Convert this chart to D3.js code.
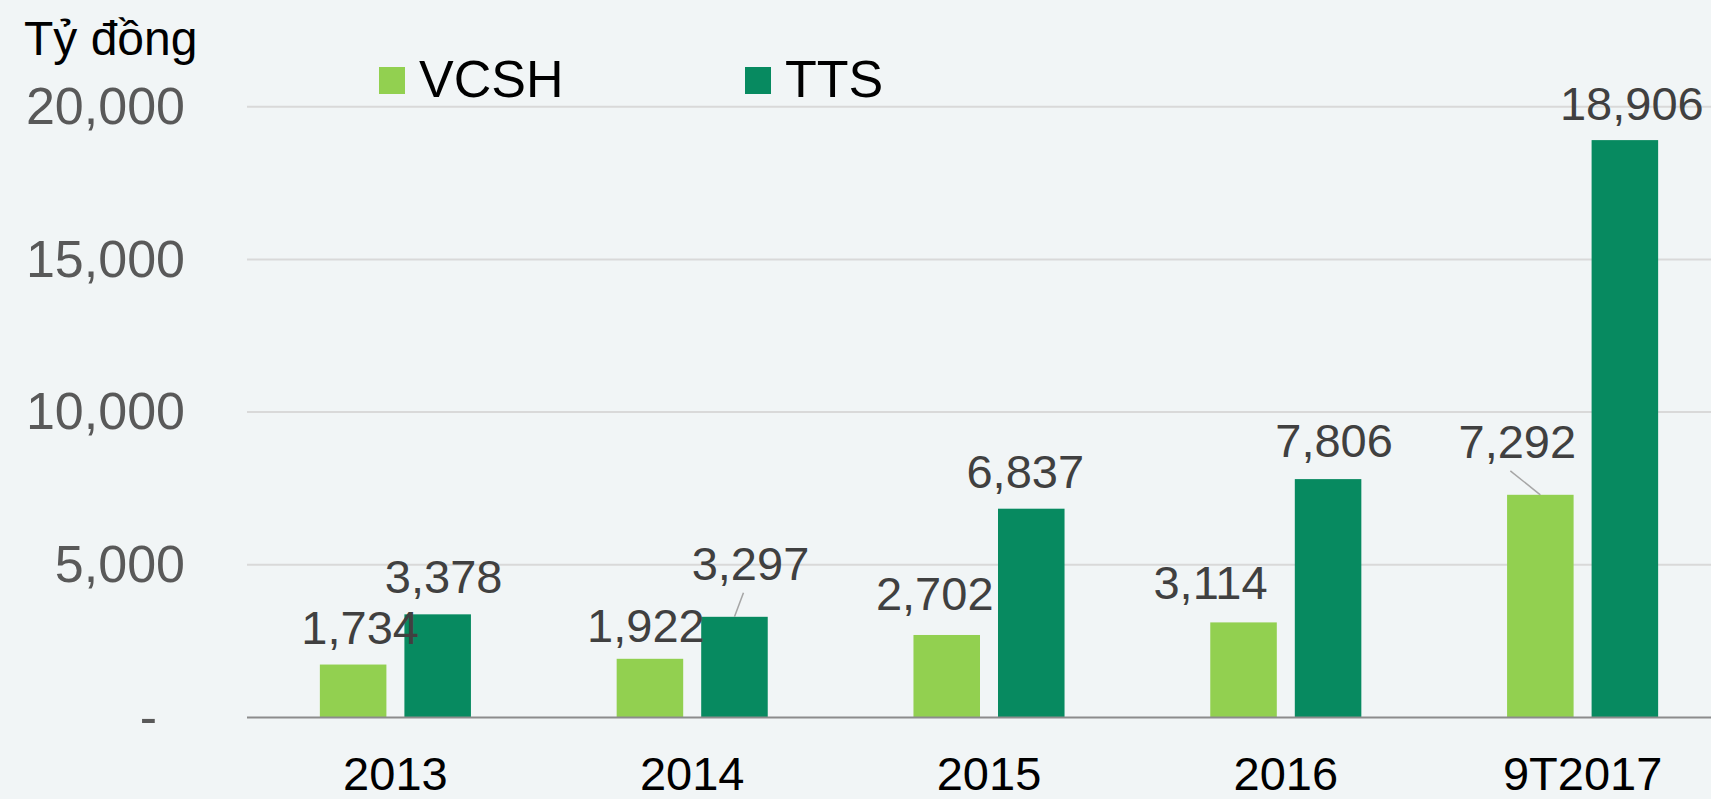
<!DOCTYPE html>
<html>
<head>
<meta charset="utf-8">
<script src="https://cdn.jsdelivr.net/npm/d3@7/dist/d3.min.js"></script>
<style>
  html, body { margin: 0; padding: 0; background: #f1f5f6; }
  svg { display: block; font-family: "Liberation Sans", Arial, sans-serif; }
</style>
</head>
<body>
<svg id="chart" width="1711" height="799"></svg>
<script>
// data
const categories = ['2013', '2014', '2015', '2016', '9T2017']
const series = ['VCSH', 'TTS']
const vcsh = [1734, 1922, 2702, 3114, 7292]
const tts = [3378, 3297, 6837, 7806, 18906]
const yTicks = [0, 5000, 10000, 15000, 20000]

// label nudges (px) from default spot above each bar, [vcsh, tts]
const nudge = [
  [[7, 0], [6, 0]],
  [[-4, 4], [16, -16]],
  [[-12, -4], [-6, 0]],
  [[-33, -2], [6, -1]],
  [[-23, -16], [7, 1]]
]
const leaders = [[1, 1], [4, 0]] // [category, series] that get a leader line

const colorScale = d3.scaleOrdinal()
  .domain(series)
  .range(['#92d050', '#078a60'])

const svg = d3.select('#chart')
const W = +svg.attr('width'), H = +svg.attr('height')

const x0 = d3.scaleBand()
  .domain(categories)
  .range([247, 1731])
  .paddingInner(0.491)
  .paddingOuter(0.2455)

const x1 = d3.scaleBand()
  .domain(series)
  .range([0, x0.bandwidth()])
  .paddingInner(0.213)

const y = d3.scaleLinear()
  .domain([0, 20000])
  .range([717.5, 106.7])

const fmt = d3.format(',')

// gridlines
svg.append('g')
  .selectAll('line')
  .data(yTicks.filter(d => d > 0))
  .enter().append('line')
  .attr('x1', 247).attr('x2', W)
  .attr('y1', d => y(d)).attr('y2', d => y(d))
  .attr('stroke', '#d9d9d9')
  .attr('stroke-width', 2)

// y axis labels
const yAxis = d3.axisLeft(y)
  .tickValues(yTicks)
  .tickSize(0)
  .tickPadding(0)
  .tickFormat(d => d === 0 ? '-' : fmt(d))

const ya = svg.append('g')
  .attr('transform', 'translate(185,0)')
  .call(yAxis)
ya.select('.domain').remove()
ya.selectAll('text')
  .attr('fill', '#595959')
  .style('font-size', '52px')
  .attr('dx', d => d === 0 ? -28 : 0)

// rows
const rows = categories.map((c, i) => ({cat: c, i: i, vals: [vcsh[i], tts[i]]}))

const groups = svg.selectAll('.grp').data(rows)
  .enter().append('g')
  .attr('class', 'grp')
  .attr('transform', d => `translate(${x0(d.cat)},0)`)

groups.selectAll('rect')
  .data(d => series.map((s, j) => ({s: s, v: d.vals[j]})))
  .enter().append('rect')
  .attr('x', d => x1(d.s))
  .attr('width', x1.bandwidth())
  .attr('y', d => y(d.v))
  .attr('height', d => y(0) - y(d.v))
  .attr('fill', d => colorScale(d.s))

// baseline
svg.append('line')
  .attr('x1', 247).attr('x2', W)
  .attr('y1', y(0)).attr('y2', y(0))
  .attr('stroke', '#8c8c8c')
  .attr('stroke-width', 2)

// data labels
const labels = []
rows.forEach((r, i) => {
  series.forEach((s, j) => {
    const bx = x0(r.cat) + x1(s) + x1.bandwidth() / 2
    const by = y(r.vals[j])
    labels.push({
      i: i, j: j, v: r.vals[j], bx: bx, by: by,
      lx: bx + nudge[i][j][0],
      ly: by - 21 + nudge[i][j][1]
    })
  })
})

svg.append('g').selectAll('line')
  .data(labels.filter(d => leaders.some(l => l[0] === d.i && l[1] === d.j)))
  .enter().append('line')
  .attr('x1', d => d.lx - 7).attr('y1', d => d.ly + 13)
  .attr('x2', d => d.bx).attr('y2', d => d.by)
  .attr('stroke', '#a6a6a6')
  .attr('stroke-width', 1.5)

svg.append('g').selectAll('text')
  .data(labels)
  .enter().append('text')
  .attr('x', d => d.lx)
  .attr('y', d => d.ly)
  .attr('text-anchor', 'middle')
  .attr('fill', '#404040')
  .style('font-size', '47px')
  .text(d => fmt(d.v))

// category labels
svg.append('g').selectAll('text')
  .data(categories)
  .enter().append('text')
  .attr('x', d => x0(d) + x0.bandwidth() / 2)
  .attr('y', 790)
  .attr('text-anchor', 'middle')
  .attr('fill', '#000')
  .style('font-size', '47px')
  .text(d => d)

// unit
svg.append('text')
  .attr('x', 24).attr('y', 55)
  .attr('fill', '#000')
  .style('font-size', '48px')
  .text('Tỷ đồng')

// legend
const legX = [379, 745]
const leg = svg.selectAll('.leg').data(series)
  .enter().append('g')
  .attr('class', 'leg')
  .attr('transform', (d, i) => `translate(${legX[i]},67)`)
leg.append('rect')
  .attr('width', 26).attr('height', 27)
  .attr('fill', d => colorScale(d))
leg.append('text')
  .attr('x', 40).attr('y', 30)
  .attr('fill', '#000')
  .style('font-size', '52px')
  .text(d => d)
</script>
</body>
</html>
